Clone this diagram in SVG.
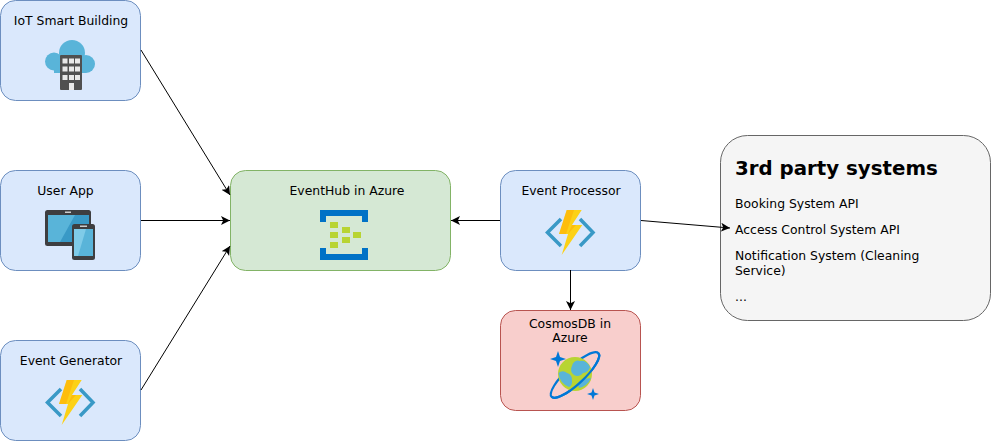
<svg xmlns="http://www.w3.org/2000/svg" xmlns:xlink="http://www.w3.org/1999/xlink" width="991" height="441" viewBox="0 0 991 441">
<style>
text{font-family:"DejaVu Sans",Verdana,sans-serif;font-size:12.4px;fill:#000}
.b{fill:#dae8fc;stroke:#6c8ebf}
.g{fill:#d5e8d4;stroke:#82b366}
.r{fill:#f8cecc;stroke:#b85450}
.s{fill:#f5f5f5;stroke:#666}
.c{fill:none;stroke:#000;stroke-width:1;marker-end:url(#ah)}
.m{text-anchor:middle}
</style>
<defs>
<marker id="ah" markerUnits="userSpaceOnUse" markerWidth="12" markerHeight="10" refX="9" refY="4.5" orient="auto">
<path d="M0 0L9 4.5L0 9L2.2 4.5Z" fill="#000"/>
</marker>
<g id="fn">
<path d="M61 389L47.5 402.500L61 416M80 389L93 402.500L80 416" fill="none" stroke="#3999c6" stroke-width="3.500"/>
<path d="M66.700 380H81.700L72 395H82.300L61.700 425L68 404H59Z" fill="#fcd116"/>
<path d="M66.700 380H74L66 404H59ZM72 395H76L68 404Z" fill="#ffa500" opacity=".45"/>
</g>
</defs>
<g id="iot">
<rect class="b" x="0.500" y="0.500" width="140" height="100" rx="15"/>
<text class="m" x="71" y="25">IoT Smart Building</text>
<g fill="#59b4d9">
<circle cx="72" cy="53" r="13"/><circle cx="54" cy="61.500" r="9"/><circle cx="86" cy="64" r="9"/>
<rect x="54" y="58" width="32" height="15"/>
</g>
<rect x="60" y="55" width="22" height="35" fill="#505050" rx="1"/>
<g fill="#e8e8e8">
<rect x="62.500" y="58.500" width="5" height="5"/><rect x="69" y="58.500" width="5" height="5"/><rect x="75" y="58.500" width="5" height="5"/>
<rect x="62.500" y="66.500" width="5" height="5"/><rect x="69" y="66.500" width="5" height="5"/><rect x="75" y="66.500" width="5" height="5"/>
<rect x="62.500" y="75" width="5" height="5"/><rect x="69" y="75" width="5" height="5"/><rect x="75" y="75" width="5" height="5"/>
<rect x="69" y="83" width="5" height="7"/>
</g>
</g>
<g id="user-app">
<rect class="b" x="0.500" y="170.500" width="140" height="100" rx="15"/>
<text class="m" x="65.500" y="195">User App</text>
<rect x="45" y="210" width="46" height="36" rx="2.500" fill="#3e3e40"/>
<rect x="48" y="215" width="41" height="27" fill="#3999c6"/>
<path d="M48 215H75L60 242H48Z" fill="#59b4d9"/>
<rect x="65" y="211.500" width="6" height="1.500" fill="#ccc"/>
<rect x="72" y="224" width="23" height="36" rx="2.500" fill="#3e3e40"/>
<rect x="74" y="229" width="19" height="27" fill="#59b4d9"/>
<path d="M74 229H86L78 256H74Z" fill="#7fcbe8"/>
<rect x="80" y="225.500" width="7" height="1.500" fill="#ccc"/>
</g>
<g id="event-generator">
<rect class="b" x="0.500" y="340.500" width="140" height="100" rx="15"/>
<text class="m" x="71" y="365">Event Generator</text>
<use xlink:href="#fn"/>
</g>
<g id="eventhub">
<rect class="g" x="230.500" y="170.500" width="220" height="100" rx="15"/>
<text class="m" x="347" y="195">EventHub in Azure</text>
<path d="M320 210H368V222H362V216H326V222H320ZM320 248H326V254H362V248H368V260H320Z" fill="#0072c6"/>
<g fill="#b8d432">
<rect x="330" y="222" width="8" height="6"/><rect x="330" y="232" width="8" height="6"/><rect x="330" y="242" width="8" height="6"/>
<rect x="342" y="227" width="8" height="6"/><rect x="342" y="237" width="8" height="6"/><rect x="353" y="232" width="8" height="6"/>
</g>
</g>
<g id="event-processor">
<rect class="b" x="500.500" y="170.500" width="140" height="100" rx="15"/>
<text class="m" x="571" y="195">Event Processor</text>
<use xlink:href="#fn" x="500" y="-170"/>
</g>
<g id="cosmosdb">
<rect class="r" x="500.500" y="310.500" width="140" height="100" rx="15"/>
<text class="m" x="570" y="328">CosmosDB in</text>
<text class="m" x="570" y="342">Azure</text>
<ellipse cx="575" cy="375" rx="32" ry="9" transform="rotate(-43 575 375)" fill="none" stroke="#0078d7" stroke-width="2.200"/>
<circle cx="575" cy="374" r="17" fill="#b8d432"/>
<path d="M572 366A6 6 0 0 1 580 361A9 9 0 0 1 590 367A8 8 0 0 1 583 373A6 6 0 0 1 572 366ZM558.500 373A6 6 0 0 1 567 373A7 7 0 0 1 572 381A6 6 0 0 1 569 387A17 17 0 0 1 558.500 373ZM579 388A6 6 0 0 1 583 379L591 378A17 17 0 0 1 579 388Z" fill="#59b4d9"/>
<path d="M-32 0A32 9 0 0 0 32 0" transform="translate(575 375) rotate(-43)" fill="none" stroke="#0078d7" stroke-width="2.200"/>
<path d="M558 351L560 357L566 359L560 361L558 367L556 361L550 359L556 357Z" fill="#0078d7"/>
<path d="M593 388L594.500 392.500L599 394L594.500 395.500L593 400L591.500 395.500L587 394L591.500 392.500Z" fill="#0078d7"/>
</g>
<g id="third-party">
<rect class="s" x="720.500" y="135.500" width="270" height="185" rx="27"/>
<text x="735" y="175" style="font-size:19.800px;font-weight:bold">3rd party systems</text>
<text x="735" y="208">Booking System API</text>
<text x="735" y="234">Access Control System API</text>
<text x="735" y="260">Notification System (Cleaning</text>
<text x="735" y="275">Service)</text>
<text x="735" y="301">...</text>
</g>
<g id="connectors">
<path class="c" d="M141 50L230 195"/>
<path class="c" d="M141 220.500H230"/>
<path class="c" d="M141 390L230 246"/>
<path class="c" d="M500 220.500H451"/>
<path class="c" d="M570.500 270V310"/>
<path class="c" d="M641 220.500L730 228"/>
</g>
</svg>
